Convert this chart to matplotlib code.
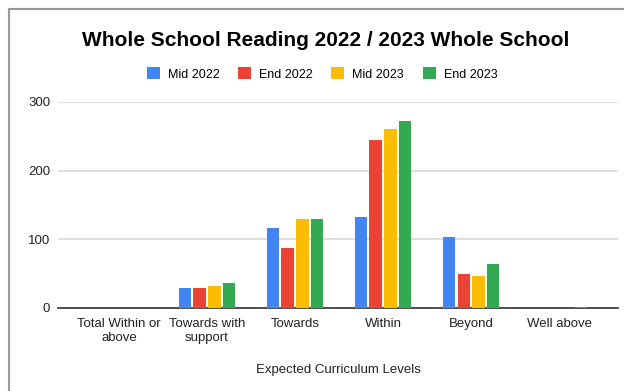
import numpy as np
import matplotlib.pyplot as plt
from matplotlib.lines import Line2D
from matplotlib.patches import Patch

plt.rcParams['font.family'] = ['Liberation Sans', 'DejaVu Sans']

categories = ['Total Within or\nabove', 'Towards with\nsupport', 'Towards',
              'Within', 'Beyond', 'Well above']
series = ['Mid 2022', 'End 2022', 'Mid 2023', 'End 2023']
mid_2022 = [0, 29, 116, 132, 103, 0]
end_2022 = [0, 29, 87, 245, 50, 0]
mid_2023 = [0, 32, 130, 261, 47, 0]
end_2023 = [0, 37, 130, 272, 64, 2]
colors = ['#4285F4', '#EA4335', '#FBBC04', '#34A853']

W, H = 624, 391
fig = plt.figure(figsize=(W / 100, H / 100), dpi=100)
ax = fig.add_axes([58 / W, 1 - 308 / H, 560 / W, 206 / H])

x = np.arange(len(categories))
step = 0.167
width = 0.141
for k, (vals, c) in enumerate(zip([mid_2022, end_2022, mid_2023, end_2023], colors)):
    ax.bar(x + (k - 1.5) * step, vals, width=width, color=c, zorder=3)

ax.set_xlim(-0.692, 5.669)
ax.set_ylim(0, 300)
ax.set_yticks([0, 100, 200, 300])
ax.yaxis.grid(True, color='#d9d9d9', linewidth=1.2, zorder=0)
ax.tick_params(axis='y', length=0, pad=5.5, labelsize=9.5, labelcolor='#222222')
ax.set_xticks(x)
ax.set_xticklabels(categories, fontsize=9.5, color='#222222', linespacing=1.15)
ax.tick_params(axis='x', length=0, pad=7.5)
for s in ['top', 'right', 'left']:
    ax.spines[s].set_visible(False)
ax.spines['bottom'].set_color('#333333')
ax.spines['bottom'].set_linewidth(1.2)

fig.text(326 / W, 1 - 41 / H, 'Whole School Reading 2022 / 2023 Whole School',
         ha='center', va='center', fontsize=15, fontweight='bold')
fig.text(338 / W, 1 - 370 / H, 'Expected Curriculum Levels',
         ha='center', va='center', fontsize=9.5, color='#222222')

handles = [Patch(facecolor=c, label=s) for s, c in zip(series, colors)]
fig.legend(handles=handles, loc='center', bbox_to_anchor=(322 / W, 1 - 74 / H),
           ncol=4, frameon=False, fontsize=9, handlelength=1.04,
           handleheight=1.04, handletextpad=0.64, columnspacing=1.48,
           borderpad=0)

# frame lines along top and left edges
fig.add_artist(Line2D([9 / W, 1], [1 - 9 / H, 1 - 9 / H],
                      color='#999999', linewidth=1.5, transform=fig.transFigure))
fig.add_artist(Line2D([9 / W, 9 / W], [0, 1 - 9 / H],
                      color='#999999', linewidth=1.5, transform=fig.transFigure))

fig.savefig('out.png', dpi=100)
